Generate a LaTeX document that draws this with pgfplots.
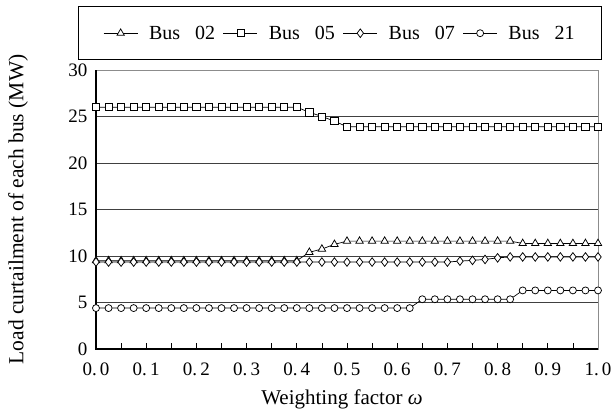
\documentclass[border=0pt]{standalone}
\usepackage{fontspec}
\setmainfont{Liberation Serif}
\usepackage{pgfplots}
\pgfplotsset{compat=1.18}
\usepackage{pgfplotstable}
\usetikzlibrary{calc}

% load curtailment (MW) per bus against weighting factor w
\pgfplotstableread{
w     b02   b05   b07   b21
0.000 9.50  26.00 9.35  4.40
0.025 9.50  26.00 9.35  4.40
0.050 9.50  26.00 9.35  4.40
0.075 9.50  26.00 9.35  4.40
0.100 9.50  26.00 9.35  4.40
0.125 9.50  26.00 9.35  4.40
0.150 9.50  26.00 9.35  4.40
0.175 9.50  26.00 9.35  4.40
0.200 9.50  26.00 9.35  4.40
0.225 9.50  26.00 9.35  4.40
0.250 9.50  26.00 9.35  4.40
0.275 9.50  26.00 9.35  4.40
0.300 9.50  26.00 9.35  4.40
0.325 9.50  26.00 9.35  4.40
0.350 9.50  26.00 9.35  4.40
0.375 9.50  26.00 9.35  4.40
0.400 9.50  26.00 9.35  4.40
0.425 10.40 25.45 9.35  4.40
0.450 10.75 25.00 9.35  4.40
0.475 11.25 24.50 9.35  4.40
0.500 11.60 23.90 9.35  4.40
0.525 11.60 23.90 9.35  4.40
0.550 11.60 23.90 9.35  4.40
0.575 11.60 23.90 9.35  4.40
0.600 11.60 23.90 9.35  4.40
0.625 11.60 23.90 9.35  4.40
0.650 11.60 23.90 9.35  5.35
0.675 11.60 23.90 9.35  5.35
0.700 11.60 23.90 9.35  5.35
0.725 11.60 23.90 9.45  5.35
0.750 11.60 23.90 9.53  5.35
0.775 11.60 23.90 9.63  5.35
0.800 11.60 23.90 9.80  5.35
0.825 11.60 23.90 9.90  5.35
0.850 11.35 23.90 9.90  6.30
0.875 11.35 23.90 9.90  6.30
0.900 11.35 23.90 9.90  6.30
0.925 11.35 23.90 9.90  6.30
0.950 11.35 23.90 9.90  6.30
0.975 11.35 23.90 9.90  6.30
1.000 11.35 23.90 9.90  6.30
}\loadtable

\begin{document}
\begin{tikzpicture}
\begin{axis}[name=ax, scale only axis, width=502pt, height=279pt,
  xmin=0, xmax=1, ymin=0, ymax=30,
  xtick={0,0.1,0.2,0.3,0.4,0.5,0.6,0.7,0.8,0.9,1},
  xticklabels={0.\,0,0.\,1,0.\,2,0.\,3,0.\,4,0.\,5,0.\,6,0.\,7,0.\,8,0.\,9,1.\,0},
  minor xtick={0.05,0.15,0.25,0.35,0.45,0.55,0.65,0.75,0.85,0.95},
  ytick={0,5,10,15,20,25,30},
  xtick pos=bottom, tick align=inside,
  major tick length=6pt, minor tick length=6pt,
  xtick style={black, line width=0.6pt},
  ytick style={draw=none},
  ymajorgrids, grid style={black!75, line width=0.6pt},
  axis line style={black!45, line width=0.8pt},
  tick label style={font=\fontsize{19}{19}\selectfont},
  /pgf/number format/assume math mode=true,
  xticklabel style={yshift=-10pt},
  yticklabel style={xshift=-5pt},
  every axis x label/.style={at={(axis description cs:0.49,0)}, anchor=center, yshift=-50pt},
  every axis y label/.style={at={(axis description cs:0,0.5)}, rotate=90, anchor=center, yshift=78pt},
  xlabel style={font=\fontsize{21}{21}\selectfont},
  ylabel style={font=\fontsize{21.5}{21.5}\selectfont},
  xlabel={Weighting factor \textit{ω}},
  ylabel={Load curtailment of each bus (MW)},
  legend columns=4,
  legend image code/.code={\draw[mark repeat=2,mark phase=2,#1] plot coordinates {(0pt,0pt) (17pt,0pt) (34pt,0pt)};},
  legend style={at={(axis description cs:0.486,1)}, anchor=south, yshift=10pt,
    draw=black, line width=0.8pt, font=\fontsize{20}{20}\selectfont,
    inner xsep=25pt, inner ysep=17pt,
    /tikz/every odd column/.append style={column sep=9pt},
    /tikz/every even column/.append style={column sep=6pt}},
  every axis plot/.append style={black, line width=0.7pt, mark options={solid, fill=white, line width=0.75pt}},
  clip=false]
\addplot[mark=triangle*, mark size=4.3pt] table[x=w, y=b02] {\loadtable};
\addlegendentry{Bus\hspace{0.75em}02}
\addplot[mark=square*, mark size=3.6pt] table[x=w, y=b05] {\loadtable};
\addlegendentry{Bus\hspace{0.75em}05}
\addplot[mark=diamond*, mark size=4.3pt] table[x=w, y=b07] {\loadtable};
\addlegendentry{Bus\hspace{0.75em}07}
\addplot[mark=*, mark size=3.5pt] table[x=w, y=b21] {\loadtable};
\addlegendentry{Bus\hspace{0.75em}21}
\draw[black, line width=1.1pt] (rel axis cs:0,1) -- (rel axis cs:0,0) -- (rel axis cs:1,0);
\end{axis}
\pgfresetboundingbox
\path[use as bounding box] ($(ax.south west)+(-96pt,-69pt)$) rectangle ($(ax.north east)+(16pt,70pt)$);
\end{tikzpicture}
\end{document}
